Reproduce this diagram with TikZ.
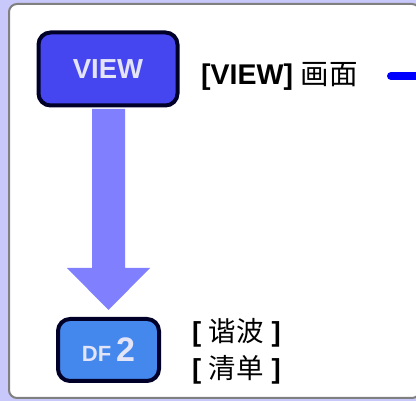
\documentclass[tikz,border=0pt]{standalone}
\usepackage{fontspec}
\setmainfont{Liberation Sans}
\newfontfamily\cjk{Noto Sans CJK SC}
\usetikzlibrary{shapes.arrows}
\definecolor{bglav}{HTML}{C8C8FA}
\definecolor{frameg}{HTML}{808080}
\definecolor{btnview}{HTML}{4646F0}
\definecolor{btndf}{HTML}{4488EE}
\definecolor{btnedge}{HTML}{000028}
\definecolor{btntext}{HTML}{E4E4F8}
\definecolor{arrowc}{HTML}{8080FF}
\definecolor{linkblue}{HTML}{0000FF}
\tikzset{
  keybtn/.style={draw=btnedge, line width=4pt, rounded corners=12pt, inner sep=0pt, text=btntext, font=\bfseries},
  lbl/.style={anchor=west, inner sep=0pt, text=black},
}
\begin{document}
\begin{tikzpicture}[x=1pt,y=-1pt]
\useasboundingbox (0,0) rectangle (416,401);
\fill[bglav] (0,0) rectangle (416,401);
\begin{scope}
\clip (0,0) rectangle (416,401);
\draw[frameg, fill=white, line width=2pt, rounded corners=8pt] (9,4) rectangle (420,398);
\end{scope}
% VIEW button
\node[keybtn, fill=btnview, minimum width=139pt, minimum height=73pt, font=\fontsize{27.5}{27.5}\selectfont\bfseries] (view) at (108,69) {VIEW};
% arrow
\fill[arrowc] (92,109) -- (125,109) -- (125,268) -- (150,268) -- (108.5,310) -- (67,268) -- (92,268) -- cycle;
% DF2 button
\node[keybtn, fill=btndf, minimum width=101pt, minimum height=62pt] (df) at (108.5,350) {\fontsize{22}{22}\selectfont DF\hspace{5pt}\fontsize{34}{34}\selectfont 2};
% labels
\node[lbl, font=\fontsize{28.5}{28.5}\selectfont] (viewlbl) at (201,76) {\textbf{[VIEW]} {\cjk 画面}};
\coordinate (linkend) at (420,76);
\draw[linkblue, line width=8pt, line cap=round] (391,76) -- (linkend);
\node[lbl, font=\fontsize{27.5}{27.5}\selectfont] (harm) at (192,333) {\textbf{[} {\cjk 谐波} \textbf{]}};
\node[lbl, font=\fontsize{27.5}{27.5}\selectfont] (list) at (192,370) {\textbf{[} {\cjk 清单} \textbf{]}};
\end{tikzpicture}
\end{document}
